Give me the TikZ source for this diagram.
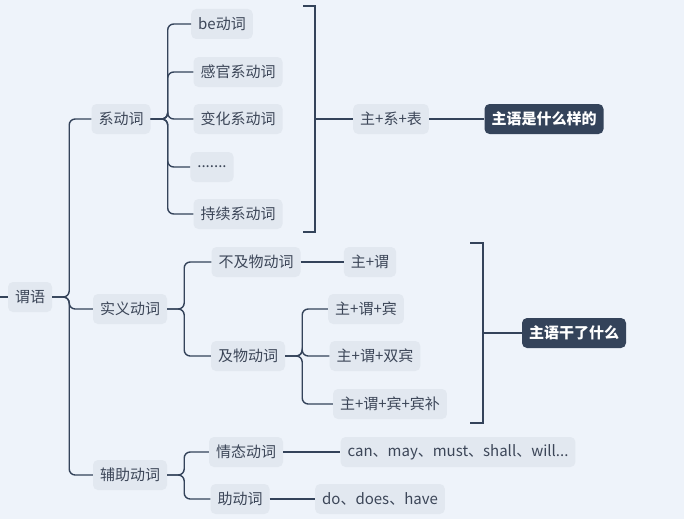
\documentclass[tikz,border=0pt]{standalone}
\usepackage{fontspec}
\setmainfont{Noto Sans CJK SC}
\usepackage{tikz}
\definecolor{bgcol}{HTML}{EEF3FA}
\definecolor{boxcol}{HTML}{E2E8F0}
\definecolor{inkcol}{HTML}{34435A}
\definecolor{txtcol}{HTML}{3C4658}
\begin{document}
\begin{tikzpicture}[
  x=1pt,y=-1pt,
  every node/.style={font=\fontsize{15}{17}\selectfont},
  topic/.style={fill=boxcol,text=txtcol,rounded corners=5pt,minimum height=30pt,inner xsep=7pt},
  keynote/.style={fill=inkcol,text=white,font=\fontsize{15}{17}\selectfont\bfseries,rounded corners=5pt,minimum height=30pt,inner xsep=7pt},
  link/.style={draw=inkcol,line width=1.4pt,rounded corners=6pt}
  ]
  \fill[bgcol] (0,0) rectangle (684,519);
  \useasboundingbox (0,0) rectangle (684,519);

  \node[topic] (wy)   at (30,297)  {谓语};
  \node[topic] (xdc)  at (121,119) {系动词};
  \node[topic] (sydc) at (130,309) {实义动词};
  \node[topic] (fzdc) at (130,475) {辅助动词};

  \node[topic] (be)   at (222,24)  {be动词};
  \node[topic] (gg)   at (238,72)  {感官系动词};
  \node[topic] (bh)   at (238,119) {变化系动词};
  \node[topic] (dots) at (212,167) {.......};
  \node[topic] (cx)   at (238,214) {持续系动词};

  \node[topic] (zxb)  at (391,119) {主+系+表};
  \node[keynote] (k1) at (544,119) {主语是什么样的};

  \node[topic] (bjw)  at (256,262) {不及物动词};
  \node[topic] (zw)   at (370,262) {主+谓};
  \node[topic] (jw)   at (248,356) {及物动词};
  \node[topic] (zwb)  at (366,309) {主+谓+宾};
  \node[topic] (zwsb) at (375,356) {主+谓+双宾};
  \node[topic] (zwbb) at (390,404) {主+谓+宾+宾补};
  \node[keynote] (k2) at (574,333) {主语干了什么};

  \node[topic] (qt)   at (246,452) {情态动词};
  \node[topic] (can)  at (458,452) {can、may、must、shall、will...};
  \node[topic] (zdc)  at (240,499) {助动词};
  \node[topic] (do)   at (380,499) {do、does、have};

  \coordinate (lft) at (0,297);
  \draw[link] (lft) -- (wy);

  % tree branches
  \foreach \c in {xdc,sydc,fzdc}
    \draw[link] (wy.east) -- ++(17,0) |- (\c.west);
  \foreach \c in {be,gg,bh,dots,cx}
    \draw[link] (xdc.east) -- ++(17,0) |- (\c.west);
  \foreach \c in {bjw,jw}
    \draw[link] (sydc.east) -- ++(17,0) |- (\c.west);
  \foreach \c in {qt,zdc}
    \draw[link] (fzdc.east) -- ++(17,0) |- (\c.west);
  \foreach \c in {zwb,zwsb,zwbb}
    \draw[link] (jw.east) -- ++(17,0) |- (\c.west);

  % brackets
  \draw[link,rounded corners=0pt] (303,6) -- (315,6) -- (315,232) -- (303,232);
  \draw[link] (315,119) -- (zxb.west);
  \draw[link,rounded corners=0pt] (470,243) -- (483,243) -- (483,423) -- (470,423);
  \draw[link] (483,333) -- (k2.west);

  \draw[link] (zxb) -- (k1);
  \draw[link] (bjw) -- (zw);
  \draw[link] (qt) -- (can);
  \draw[link] (zdc) -- (do);
\end{tikzpicture}
\end{document}
